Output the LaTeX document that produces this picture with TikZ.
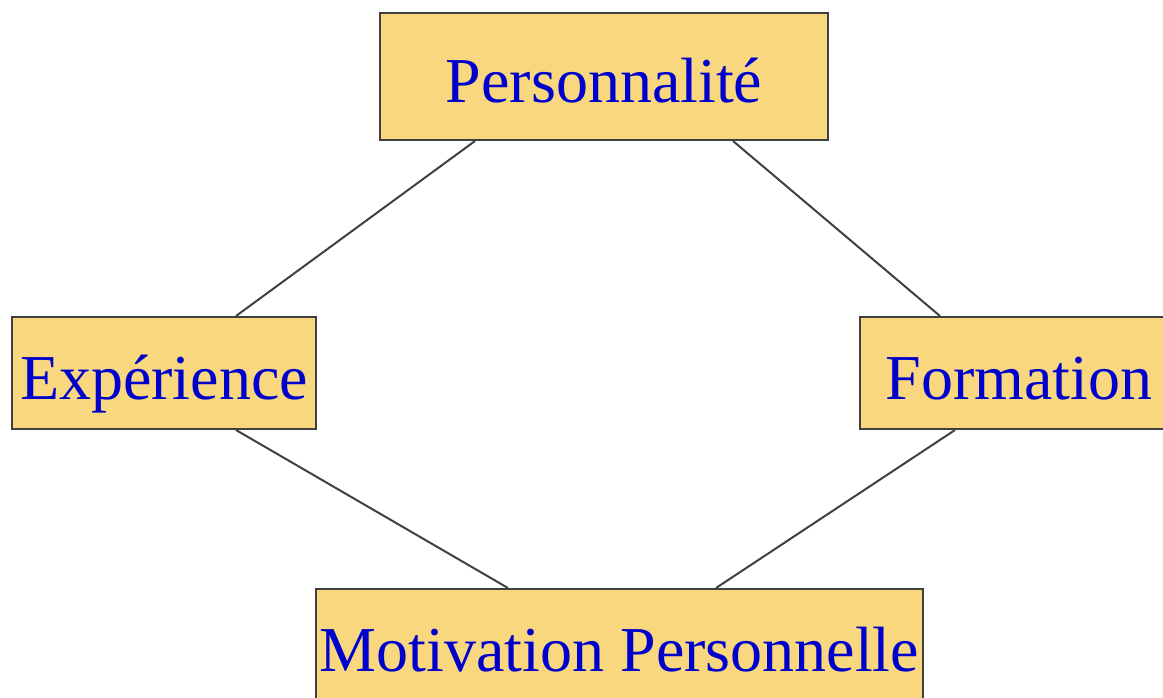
\documentclass[tikz,border=0pt]{standalone}
\usepackage{fontspec}
\setmainfont{Liberation Serif}
\usepackage{xcolor}
\usetikzlibrary{arrows}
\definecolor{boxfill}{HTML}{F8D77F}
\definecolor{boxline}{HTML}{404040}
\definecolor{boxtext}{HTML}{0000CC}
\tikzset{
	item/.style={draw=boxline, line width=2pt, fill=boxfill, text=boxtext,
		font=\fontsize{64}{70}\selectfont, inner sep=0pt,
		text height=58pt, text depth=6pt, minimum height=112pt},
	link/.style={draw=boxline, line width=2pt}
}
\begin{document}
\begin{tikzpicture}[x=1pt,y=-1pt]
		\useasboundingbox (0,0) rectangle (1163,697);
		\node[item, minimum width=448pt, minimum height=127pt] (P) at (604,76.5) {Personnalité};
		\node[item, minimum width=304pt] (E) at (164,373) {Expérience};
		\node[item, minimum width=318pt] (F) at (1019,373) {Formation};
		\node[item, minimum width=607pt] (M) at (619.5,645) {Motivation Personnelle};
		%
		\path[link]
		([xshift=-129pt]P.south) edge ([xshift=72pt]E.north)
		([xshift=129pt]P.south) edge ([xshift=-79pt]F.north)
		([xshift=72pt]E.south) edge ([xshift=-111.5pt]M.north)
		([xshift=-64pt]F.south) edge ([xshift=96.5pt]M.north);
\end{tikzpicture}
\end{document}
